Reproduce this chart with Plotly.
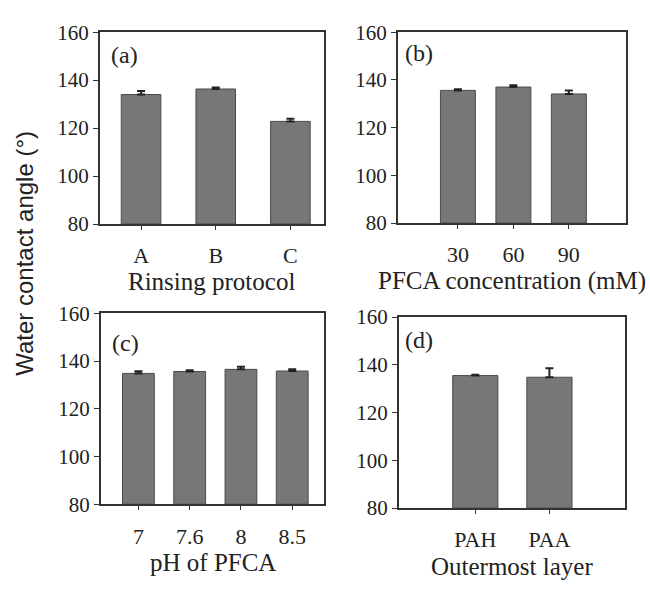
import plotly.graph_objects as go

# Data
cat_a = ["A", "B", "C"]
val_a = [134.0, 136.3, 122.8]
err_a = [1.5, 0.6, 1.1]

cat_b = ["30", "60", "90"]
val_b = [135.6, 137.0, 134.1]
err_b = [0.5, 0.8, 1.5]

cat_c = ["7", "7.6", "8", "8.5"]
val_c = [134.8, 135.6, 136.5, 135.8]
err_c = [0.9, 0.5, 1.1, 0.7]

cat_d = ["PAH", "PAA"]
val_d = [135.5, 134.8]
err_d = [0.3, 3.8]

xtitles = ["Rinsing protocol", "PFCA concentration (mM)", "pH of PFCA", "Outermost layer"]
panel_labels = ["(a)", "(b)", "(c)", "(d)"]
y_ticks = [80, 100, 120, 140, 160]

W, H = 650, 592
BAR = "#777777"
EDGE = "#4a4a4a"
AX = "#333333"
TXT = "#222222"
SERIF = "Liberation Serif, Times New Roman, serif"

# pixel boxes: left, right, top, bottom
boxes = [(100, 324, 21, 221), (398, 626, 21, 220), (101, 324, 314, 513), (399, 625, 318, 517)]
xranges = [[-0.55, 2.45], [-1.08, 3.03], [-0.73, 3.62], [-1.03, 2.02]]
widths = [0.53, 0.63, 0.62, 0.61]
label_off = [(9, 24), (5, 22), (9, 31), (4, 24)]
title_off = [60, 60, 61, 61]

data = [(cat_a, val_a, err_a), (cat_b, val_b, err_b), (cat_c, val_c, err_c), (cat_d, val_d, err_d)]

fig = go.Figure()
layout = dict(width=W, height=H, margin=dict(l=0, r=0, t=0, b=0),
              paper_bgcolor="white", plot_bgcolor="white", showlegend=False,
              font=dict(family=SERIF, color=TXT))
annotations = []
for i, ((cats, vals, errs), (l, r, t, b)) in enumerate(zip(data, boxes)):
    n = i + 1
    xa = "x" if n == 1 else f"x{n}"
    ya = "y" if n == 1 else f"y{n}"
    fig.add_trace(go.Bar(
        x=list(range(len(cats))), y=[v - 80 for v in vals], base=80,
        width=widths[i], xaxis=xa, yaxis=ya,
        marker=dict(color=BAR, line=dict(color=EDGE, width=1)),
        error_y=dict(type="data", symmetric=False, array=errs,
                     arrayminus=[0] * len(errs), color=TXT, thickness=2, width=4),
    ))
    axkey_x = "xaxis" if n == 1 else f"xaxis{n}"
    axkey_y = "yaxis" if n == 1 else f"yaxis{n}"
    layout[axkey_x] = dict(
        domain=[l / W, r / W], anchor=ya, range=xranges[i],
        tickmode="array", tickvals=list(range(len(cats))), ticktext=cats,
        ticks="outside", ticklen=4, tickcolor=AX, tickwidth=1,
        showline=True, linecolor=AX, linewidth=2, mirror=True,
        showgrid=False, zeroline=False, fixedrange=True,
        tickfont=dict(family=SERIF, size=22, color=TXT),
        ticklabelstandoff=7,
    )
    layout[axkey_y] = dict(
        domain=[1 - b / H, 1 - t / H], anchor=xa, range=[80, 160],
        tickmode="array", tickvals=y_ticks,
        ticks="outside", ticklen=5, tickcolor=AX, tickwidth=1,
        showline=True, linecolor=AX, linewidth=2, mirror=True,
        showgrid=False, zeroline=False, fixedrange=True,
        tickfont=dict(family=SERIF, size=21, color=TXT),
    )
    dx, dy = label_off[i]
    annotations.append(dict(
        text=panel_labels[i], x=(l + dx) / W, y=1 - (t + dy) / H,
        xref="paper", yref="paper", xanchor="left", yanchor="middle",
        showarrow=False, font=dict(family=SERIF, size=24, color=TXT)))
    annotations.append(dict(
        text=xtitles[i], x=(l + r) / 2 / W, y=1 - (b + title_off[i]) / H,
        xref="paper", yref="paper", xanchor="center", yanchor="middle",
        showarrow=False, font=dict(family=SERIF, size=25, color=TXT)))

annotations.append(dict(
    text="Water contact angle (°)", x=25 / W, y=1 - 252 / H,
    xref="paper", yref="paper", xanchor="center", yanchor="middle", textangle=-90,
    showarrow=False, font=dict(family="Liberation Sans, Arial, sans-serif", size=24, color=TXT)))
layout["annotations"] = annotations

fig.update_layout(**layout)
fig.write_html("out.html")
